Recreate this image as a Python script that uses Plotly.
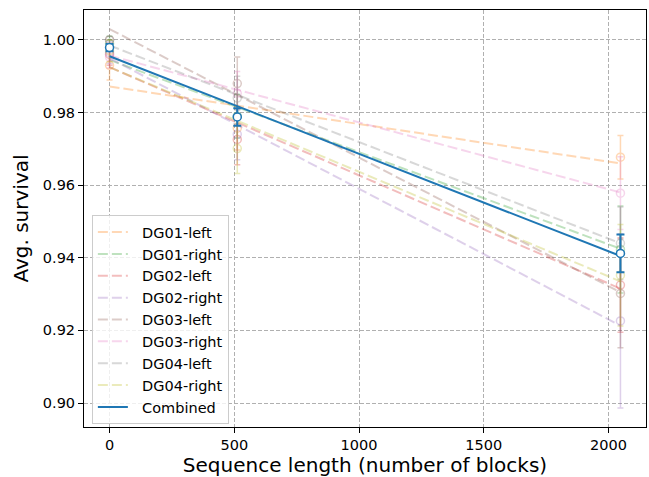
import plotly.graph_objects as go

seq_lengths = [0, 512, 2048]
names = ["DG01-left", "DG01-right", "DG02-left", "DG02-right",
         "DG03-left", "DG03-right", "DG04-left", "DG04-right"]
colors = ["#ff7f0e", "#2ca02c", "#d62728", "#9467bd",
          "#8c564b", "#e377c2", "#7f7f7f", "#bcbd22"]

survival = {
    "DG01-left":  [0.9930, 0.9757, 0.9677],
    "DG01-right": [0.9990, 0.9790, 0.9423],
    "DG02-left":  [0.9960, 0.9726, 0.9325],
    "DG02-right": [0.9965, 0.9740, 0.9226],
    "DG03-left":  [1.0000, 0.9880, 0.9302],
    "DG03-right": [0.9953, 0.9853, 0.9578],
    "DG04-left":  [1.0000, 0.9840, 0.9440],
    "DG04-right": [0.9970, 0.9701, 0.9352],
}
errors = {
    "DG01-left":  [0.004, 0.006, 0.006],
    "DG01-right": [0.002, 0.006, 0.012],
    "DG02-left":  [0.003, 0.007, 0.013],
    "DG02-right": [0.003, 0.007, 0.024],
    "DG03-left":  [0.000, 0.0073, 0.015],
    "DG03-right": [0.003, 0.006, 0.010],
    "DG04-left":  [0.000, 0.006, 0.010],
    "DG04-right": [0.003, 0.0069, 0.014],
}
fit_x = [0, 2048]
fit_values = {
    "DG01-left":  [0.9872, 0.9660],
    "DG01-right": [0.9945, 0.9425],
    "DG02-left":  [0.9925, 0.9315],
    "DG02-right": [0.9950, 0.9213],
    "DG03-left":  [1.0030, 0.9305],
    "DG03-right": [0.9957, 0.9580],
    "DG04-left":  [0.9985, 0.9440],
    "DG04-right": [0.9925, 0.9335],
}
combined = [0.9979, 0.9788, 0.9412]
combined_err = [0.0010, 0.0024, 0.0052]
combined_fit = [0.9955, 0.9405]

x_ticks = [0, 500, 1000, 1500, 2000]
y_ticks = [0.90, 0.92, 0.94, 0.96, 0.98, 1.00]

FONT = "DejaVu Sans"
PAD = "\u00a0\u00a0"
fig = go.Figure()

for n, c in zip(names, colors):
    fig.add_trace(go.Scatter(
        x=fit_x, y=fit_values[n], mode="lines", name=PAD + n,
        line=dict(color=c, width=2, dash="10px,4px"), opacity=0.3))
    fig.add_trace(go.Scatter(
        x=seq_lengths, y=survival[n], mode="markers", showlegend=False,
        marker=dict(symbol="circle", size=8, color="rgba(255,255,255,0)",
                    line=dict(color=c, width=1.5)),
        error_y=dict(type="data", array=errors[n], color=c, thickness=1.5, width=3),
        opacity=0.3))

fig.add_trace(go.Scatter(
    x=fit_x, y=combined_fit, mode="lines", name=PAD + "Combined",
    line=dict(color="#1f77b4", width=2)))
fig.add_trace(go.Scatter(
    x=seq_lengths, y=combined, mode="markers", showlegend=False,
    marker=dict(symbol="circle", size=8, color="white",
                line=dict(color="#1f77b4", width=1.5)),
    error_y=dict(type="data", array=combined_err, color="#1f77b4", thickness=2, width=4)))

axis_common = dict(
    showline=True, linecolor="black", linewidth=1, mirror=True,
    ticks="outside", ticklen=5, tickcolor="black", tickwidth=1,
    showgrid=True, gridcolor="#b0b0b0", griddash="4px,2px", gridwidth=1,
    zeroline=False, tickfont=dict(family=FONT, size=14.5, color="black"),
)

fig.update_xaxes(range=[-102.4, 2150.4], tickvals=x_ticks,
                 title=dict(text="Sequence length (number of blocks)",
                            font=dict(family=FONT, size=20, color="black"), standoff=6),
                 **axis_common)
fig.update_yaxes(range=[0.8934, 1.00825], tickvals=y_ticks, tickformat=".2f",
                 title=dict(text="Avg. survival",
                            font=dict(family=FONT, size=20, color="black"), standoff=8),
                 **axis_common)

fig.update_layout(
    width=649, height=477,
    margin=dict(l=84, r=3, t=10, b=50),
    paper_bgcolor="white", plot_bgcolor="white",
    font=dict(family=FONT, color="black"),
    legend=dict(x=0.014, y=0.508, xanchor="left", yanchor="top",
                bgcolor="rgba(255,255,255,0.8)", bordercolor="#cccccc", borderwidth=1,
                font=dict(family=FONT, size=14.5, color="black"),
                tracegroupgap=0),
    showlegend=True,
)

fig.write_html("out.html")
